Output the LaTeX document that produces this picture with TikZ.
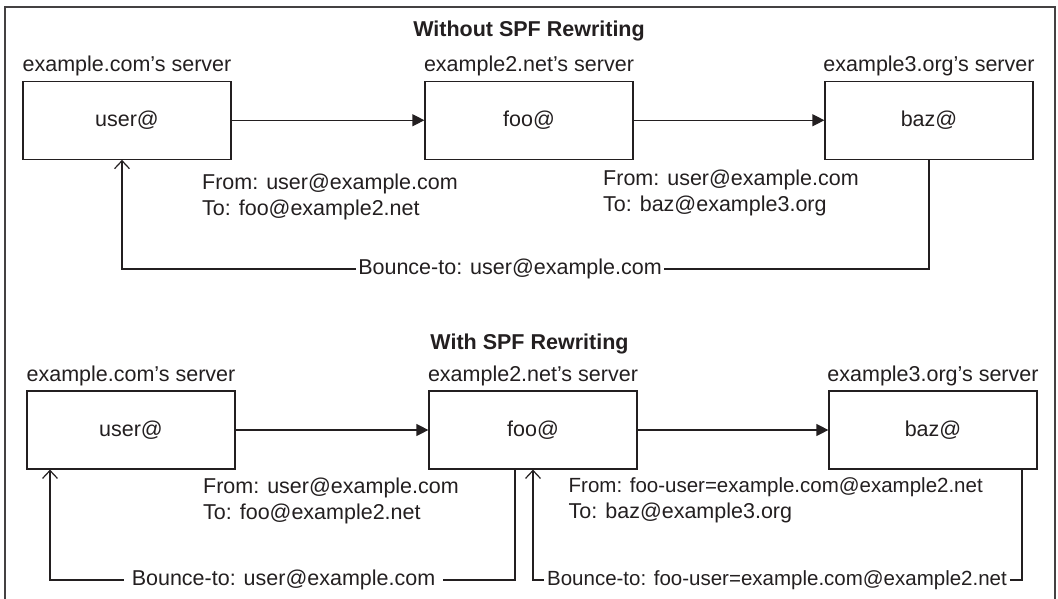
\documentclass[tikz,border=0pt]{standalone}
\usepackage{fontspec}
\setmainfont{Liberation Sans}
\usetikzlibrary{positioning,arrows.meta}
\definecolor{ink}{HTML}{231F20}
\newcommand{\bodysize}{\fontsize{21.5}{26.5}\selectfont}
\newcommand{\tightsize}{\fontsize{20.5}{26.5}\selectfont}
\tikzset{
  server/.style={draw=ink, line width=1.2pt, minimum width=208pt, minimum height=78pt, inner sep=0pt, text=ink},
  srvname/.style={inner sep=0pt, text=ink},
  heading/.style={inner sep=0pt, font=\bodysize\bfseries, text=ink},
  mail/.style={align=left, anchor=north west, inner sep=0pt, text=ink},
  hop/.style={draw=ink, line width=1.2pt, -{Triangle[length=12pt,width=12pt]}},
  link/.style={draw=ink, line width=1.2pt},
  bounce/.style={draw=ink, line width=1.2pt, -{Straight Barb[length=8pt,width=15pt]}},
  bouncelab/.style={inner ysep=0pt, inner xsep=#1, text=ink},
}
\begin{document}
\begin{tikzpicture}[x=1pt,y=-1pt,font=\bodysize]
\useasboundingbox (0,0) rectangle (1058,599);
\draw[ink!85, line width=1.5pt] (5,615) -- (5,7) -- (1055,7) -- (1055,615);

% without rewriting
\node[heading] (top) at (529,31.4) {Without SPF Rewriting};
\node[server] (a1) at (127,120.25) {user@};
\node[server] (a2) at (529,120.25) {foo@};
\node[server] (a3) at (929,120.25) {baz@};
\node[srvname, above=4pt of a1] (a1name) {example.com's server};
\node[srvname, above=4pt of a2] (a2name) {example2.net's server};
\node[srvname, above=4pt of a3] (a3name) {example3.org's server};
\node[mail] (a12) at (202,173.3) {From: user@example.com\\To: foo@example2.net};
\node[mail] (a23) at (603,169.3) {From: user@example.com\\To: baz@example3.org};
\node[bouncelab=2pt] (abounce) at (510,269) {Bounce-to: user@example.com};
\draw[hop] (a1) -- (a2);
\draw[hop] (a2) -- (a3);
\draw[link] (a3.south) |- (abounce.east);
\draw[bounce] (abounce.west) -| ([xshift=-5pt]a1.south);

% with rewriting
\node[heading] (bottom) at (529.5,344.4) {With SPF Rewriting};
\node[server] (b1) at (131,430) {user@};
\node[server] (b2) at (533,430) {foo@};
\node[server] (b3) at (933,430) {baz@};
\node[srvname, above=4pt of b1] (b1name) {example.com's server};
\node[srvname, above=4pt of b2] (b2name) {example2.net's server};
\node[srvname, above=4pt of b3] (b3name) {example3.org's server};
\node[mail] (b12) at (203,477.3) {From: user@example.com\\To: foo@example2.net};
\node[mail] (b23) at (568.5,477.3) {\tightsize From: foo-user=example.com@example2.net\\To: baz@example3.org};
\node[bouncelab=8pt] (bbounce1) at (283.5,580) {Bounce-to: user@example.com};
\node[bouncelab=3pt, font=\tightsize] (bbounce2) at (777,580) {Bounce-to: foo-user=example.com@example2.net};
\draw[hop] (b1) -- (b2);
\draw[hop] (b2) -- (b3);
\draw[link] ([xshift=-18pt]b2.south) |- (bbounce1.east);
\draw[bounce] (bbounce1.west) -| ([xshift=-81pt]b1.south);
\draw[link] ([xshift=89pt]b3.south) |- (bbounce2.east);
\draw[bounce] (bbounce2.west) -| (b2.south);
\end{tikzpicture}
\end{document}
